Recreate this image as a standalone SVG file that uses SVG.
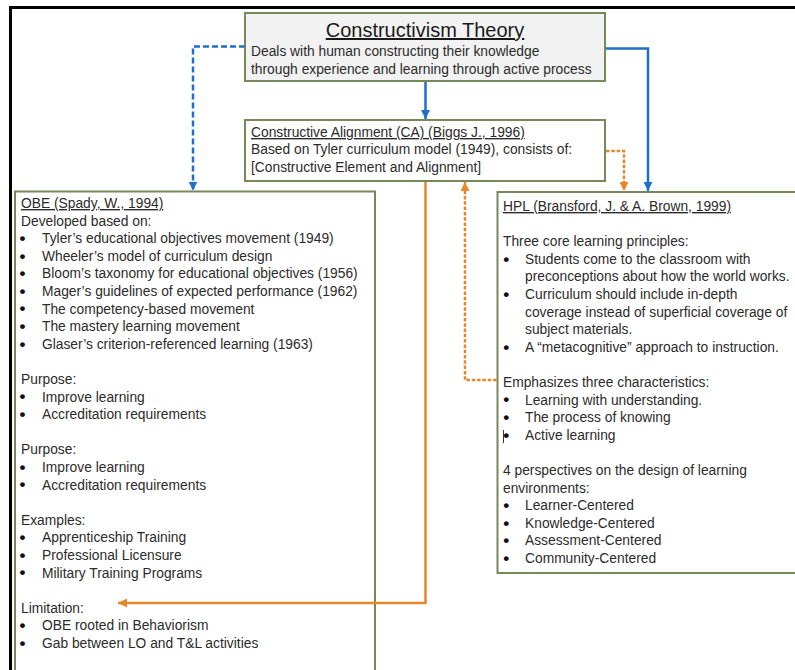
<svg xmlns="http://www.w3.org/2000/svg" width="795" height="670" viewBox="0 0 795 670">
<defs>
<style>
.box{stroke:#77895a;stroke-width:2}
.t{font-family:"Liberation Sans",Arial,sans-serif;font-size:13.8px;fill:#2b2b2b}
.b{font-family:"Liberation Sans",Arial,sans-serif;font-size:17px;font-weight:bold;fill:#111}
.u{text-decoration:underline}
.title{font-family:"Liberation Sans",Arial,sans-serif;font-size:20px;fill:#1a1a1a;text-decoration:underline}
.blue{fill:none;stroke:#1f6fc8;stroke-width:2.5}
.orange{fill:none;stroke:#e8862a;stroke-width:2.5}
.bd{stroke-dasharray:6 3}
.od{stroke-dasharray:3.5 1.8}
</style>
<marker id="ab" markerUnits="userSpaceOnUse" markerWidth="9" markerHeight="9" refX="9" refY="4.5" orient="auto" viewBox="0 0 9 9"><path d="M0,0 L9,4.5 L0,9 z" fill="#1f6fc8"/></marker>
<marker id="ao" markerUnits="userSpaceOnUse" markerWidth="9" markerHeight="9" refX="9" refY="4.5" orient="auto" viewBox="0 0 9 9"><path d="M0,0 L9,4.5 L0,9 z" fill="#e8862a"/></marker>
</defs>
<rect width="795" height="670" fill="#ffffff"/>
<path d="M10.5,670 V7.5 H795" fill="none" stroke="#000" stroke-width="3"/>

<g id="constructivism">
<rect class="box" x="245" y="13" width="360" height="68" fill="#f2f2f2"/>
<text class="title" x="425" y="37" text-anchor="middle">Constructivism Theory</text>
<text class="t" x="251" y="56">Deals with human constructing their knowledge</text>
<text class="t" x="251" y="73.5">through experience and learning through active process</text>
</g>

<g id="ca">
<rect class="box" x="245" y="120" width="360" height="61" fill="#ffffff"/>
<text class="t u" x="251" y="137">Constructive Alignment (CA) (Biggs J., 1996)</text>
<text class="t" x="251" y="154">Based on Tyler curriculum model (1949), consists of:</text>
<text class="t" x="251" y="171.5">[Constructive Element and Alignment]</text>
</g>

<g id="obe">
<rect class="box" x="15" y="191.5" width="360" height="490" fill="#ffffff"/>
<text class="t u" x="21" y="208">OBE (Spady, W., 1994)</text>
<text class="t" x="21" y="225.6">Developed based on:</text>
<text class="b" x="19.5" y="244">•</text><text class="t" x="42" y="243.2">Tyler’s educational objectives movement (1949)</text>
<text class="b" x="19.5" y="261.6">•</text><text class="t" x="42" y="260.8">Wheeler’s model of curriculum design</text>
<text class="b" x="19.5" y="279.2">•</text><text class="t" x="42" y="278.4">Bloom’s taxonomy for educational objectives (1956)</text>
<text class="b" x="19.5" y="296.8">•</text><text class="t" x="42" y="296">Mager’s guidelines of expected performance (1962)</text>
<text class="b" x="19.5" y="314.4">•</text><text class="t" x="42" y="313.6">The competency-based movement</text>
<text class="b" x="19.5" y="332">•</text><text class="t" x="42" y="331.2">The mastery learning movement</text>
<text class="b" x="19.5" y="349.6">•</text><text class="t" x="42" y="348.8">Glaser’s criterion-referenced learning (1963)</text>
<text class="t" x="21" y="384">Purpose:</text>
<text class="b" x="19.5" y="402.4">•</text><text class="t" x="42" y="401.6">Improve learning</text>
<text class="b" x="19.5" y="420">•</text><text class="t" x="42" y="419.2">Accreditation requirements</text>
<text class="t" x="21" y="454.4">Purpose:</text>
<text class="b" x="19.5" y="472.8">•</text><text class="t" x="42" y="472">Improve learning</text>
<text class="b" x="19.5" y="490.4">•</text><text class="t" x="42" y="489.6">Accreditation requirements</text>
<text class="t" x="21" y="524.8">Examples:</text>
<text class="b" x="19.5" y="543.2">•</text><text class="t" x="42" y="542.4">Apprenticeship Training</text>
<text class="b" x="19.5" y="560.8">•</text><text class="t" x="42" y="560">Professional Licensure</text>
<text class="b" x="19.5" y="578.4">•</text><text class="t" x="42" y="577.6">Military Training Programs</text>
<text class="t" x="21" y="612.8">Limitation:</text>
<text class="b" x="19.5" y="631.2">•</text><text class="t" x="42" y="630.4">OBE rooted in Behaviorism</text>
<text class="b" x="19.5" y="648.8">•</text><text class="t" x="42" y="648">Gab between LO and T&amp;L activities</text>
</g>

<g id="hpl">
<rect class="box" x="497.5" y="192" width="310" height="381" fill="#ffffff"/>
<text class="t u" x="503" y="211">HPL (Bransford, J. &amp; A. Brown, 1999)</text>
<text class="t" x="503" y="246.2">Three core learning principles:</text>
<text class="b" x="503.3" y="264.6">•</text><text class="t" x="525" y="263.8">Students come to the classroom with</text>
<text class="t" x="525" y="281.4">preconceptions about how the world works.</text>
<text class="b" x="503.3" y="299.8">•</text><text class="t" x="525" y="299">Curriculum should include in-depth</text>
<text class="t" x="525" y="316.6">coverage instead of superficial coverage of</text>
<text class="t" x="525" y="334.2">subject materials.</text>
<text class="b" x="503.3" y="352.6">•</text><text class="t" x="525" y="351.8">A “metacognitive” approach to instruction.</text>
<text class="t" x="503" y="387">Emphasizes three characteristics:</text>
<text class="b" x="503.3" y="405.4">•</text><text class="t" x="525" y="404.6">Learning with understanding.</text>
<text class="b" x="503.3" y="423">•</text><text class="t" x="525" y="422.2">The process of knowing</text>
<text class="b" x="503.3" y="440.6">•</text><text class="t" x="525" y="439.8">Active learning</text>
<line x1="503.5" y1="430" x2="503.5" y2="443" stroke="#333" stroke-width="1"/>
<text class="t" x="503" y="475">4 perspectives on the design of learning</text>
<text class="t" x="503" y="492.6">environments:</text>
<text class="b" x="503.3" y="511">•</text><text class="t" x="525" y="510.2">Learner-Centered</text>
<text class="b" x="503.3" y="528.6">•</text><text class="t" x="525" y="527.8">Knowledge-Centered</text>
<text class="b" x="503.3" y="546.2">•</text><text class="t" x="525" y="545.4">Assessment-Centered</text>
<text class="b" x="503.3" y="563.8">•</text><text class="t" x="525" y="563">Community-Centered</text>
</g>

<g id="connectors">
<path class="blue bd" d="M245,46.5 H193 V190.5" marker-end="url(#ab)"/>
<path class="blue" d="M425.5,82 V119" marker-end="url(#ab)"/>
<path class="blue" d="M606,48.5 H648 V191" marker-end="url(#ab)"/>
<path class="orange od" d="M606,151 H624 V191" marker-end="url(#ao)"/>
<path class="orange od" d="M496.5,380 H465 V182" marker-end="url(#ao)"/>
<path class="orange" d="M425.5,182 V603 H118" marker-end="url(#ao)"/>
</g>
</svg>
